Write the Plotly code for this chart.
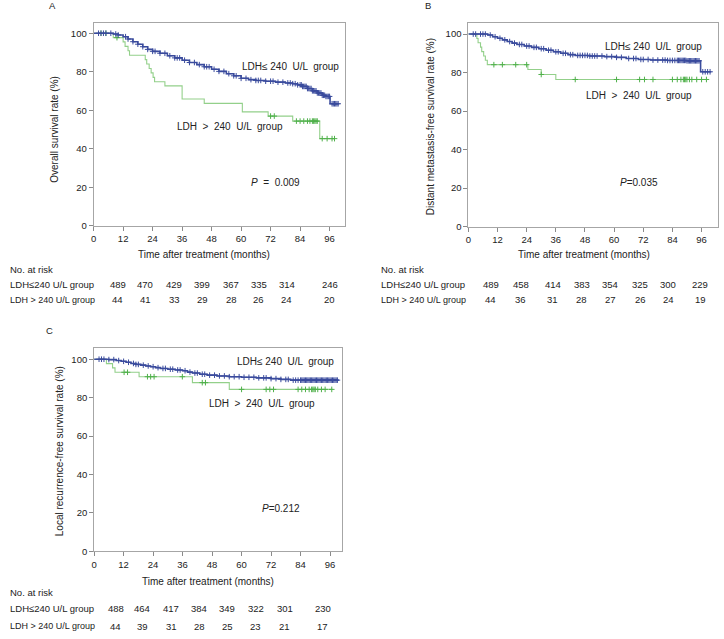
import bisect
import plotly.graph_objects as go

W, H = 724, 639

# ---------------- data ----------------
# Panel A: overall survival
a_low_t = [0, 8, 10, 12, 14, 16, 18, 20, 22, 24, 27, 30, 33, 36, 39, 42, 45, 48, 51, 54, 57, 60,
           63, 66, 70, 74, 78, 81, 83, 85, 87, 89, 91, 93, 94.5, 96.2]
a_low_s = [100, 99.6, 99.1, 98.2, 97, 95.6, 94.3, 93, 91.6, 90.6, 89.6, 88.3, 87.2, 86, 84.8, 83.7,
           82.6, 81.3, 80.2, 79, 77.9, 76.6, 75.9, 75.5, 75.1, 74.6, 74.2, 73.8, 73.2, 72.4, 71.3,
           70.1, 69, 67.8, 67.2, 63.4]
a_low_end = 99.7
a_low_cens = [2, 3, 4, 5, 7, 9, 10, 13, 14, 16, 18, 20, 22, 24, 25, 27, 29, 31, 33, 34, 35, 37, 39,
              41, 43, 45, 46, 47, 49, 51, 53, 55, 57, 58, 60, 62, 64, 66, 67, 68, 70, 72, 73, 75,
              77, 79, 80, 81, 82, 83, 84, 84.5, 85, 85.5, 86, 86.5, 87, 87.5, 88, 88.5, 89, 89.5,
              90, 90.5, 91, 91.5, 92, 92.5, 93, 93.5, 94, 94.5, 95, 95.5, 96, 97, 97.5, 98, 98.5,
              99, 99.5]
a_high_t = [0, 8, 12, 12.8, 14, 14.6, 21, 21.6, 22.6, 23.4, 24.2, 24.8, 29, 36, 45, 60.5, 71, 81, 92]
a_high_s = [100, 97.7, 95.5, 93.2, 90.9, 88.6, 86.3, 84.0, 81.7, 79.4, 77.1, 74.8, 72.7, 65.9, 63.6,
            59.2, 57.0, 54.4, 45.3]
a_high_end = 98
a_high_cens = [3, 5, 9.5, 72, 73.5, 82.5, 84, 85.5, 87, 88, 89, 89.5, 90, 90.5, 91, 93, 95, 97, 98]

# Panel B: distant metastasis-free survival
b_low_t = [0, 8, 10, 12, 14, 16, 18, 20, 23, 26, 29, 32, 35, 38, 41, 44, 50, 56, 61, 65, 70, 75,
           82, 90, 95.6]
b_low_s = [100, 99.5, 98.6, 97.8, 97, 96.1, 95.3, 94.6, 93.8, 93.1, 92.4, 91.6, 90.8, 90, 89.3,
           88.9, 88.6, 88.3, 87.9, 87.3, 86.8, 86.5, 86.3, 86.1, 80.4]
b_low_end = 100
b_low_cens = [2, 3, 5, 6, 7, 9, 11, 13, 15, 17, 19, 21, 22, 24, 25, 27, 28, 30, 31, 33, 34, 36, 37,
              39, 40, 42, 43, 45, 46, 47, 48, 49, 50, 51, 52, 53, 55, 57, 59, 61, 63, 66, 68, 69,
              71, 72, 74, 76, 78, 80, 81, 82, 83, 84, 85, 86, 86.5, 87, 87.5, 88, 88.5, 89, 89.5,
              90, 90.5, 91, 91.5, 92, 92.5, 93, 93.5, 94, 94.5, 95, 96.5, 97.5, 98.5, 99.5]
b_high_t = [0, 3.5, 4, 5, 5.5, 6.3, 7, 7.8, 24.5, 30, 36]
b_high_s = [100, 97.7, 95.5, 93.2, 90.9, 88.6, 86.4, 84.1, 81.6, 79.0, 76.4]
b_high_end = 98
b_high_cens = [10.5, 14, 19.5, 24, 30, 44, 61, 70.5, 72.5, 76, 84, 86, 87.5, 88.5, 89, 89.5, 90,
               91, 92, 94, 96, 98]

# Panel C: local recurrence-free survival
c_low_t = [0, 6, 9, 11, 13, 15, 17, 19, 21, 23, 25, 27, 30, 33, 36, 38, 40, 43, 46, 50, 55, 60,
           66, 72, 76, 80]
c_low_s = [100, 99.8, 99.3, 98.9, 98.4, 97.8, 97.3, 96.9, 96.5, 96.1, 95.6, 95.2, 94.8, 94.4, 94.0,
           93.3, 92.8, 92.2, 91.7, 91.3, 90.9, 90.6, 90.3, 89.9, 89.5, 89.1]
c_low_end = 99.5
c_low_cens = [2, 3, 4, 6, 8, 10, 12, 14, 16, 17, 18, 20, 22, 24, 26, 28, 29, 31, 32, 34, 35, 37,
              39, 41, 42, 44, 45, 47, 49, 51, 53, 55, 57, 59, 61, 63, 65, 67, 69, 70, 72, 74, 76,
              78, 79, 81, 82, 83, 84, 84.5, 85, 85.5, 86, 86.5, 87, 87.5, 88, 88.5, 89, 89.5, 90,
              90.5, 91, 91.5, 92, 92.5, 93, 93.5, 94, 94.5, 95, 95.5, 96, 96.5, 97, 97.5, 98,
              98.5, 99]
c_high_t = [0, 5, 7.5, 8.5, 18.3, 40, 55]
c_high_s = [100, 97.7, 95.5, 93.2, 90.9, 87.8, 84.3]
c_high_end = 97
c_high_cens = [12.2, 13.6, 21.7, 23, 24.4, 35.9, 44, 45.3, 60, 70, 71.5, 73, 83, 84.5, 86, 87.5,
               88.5, 89, 89.5, 90, 91, 92.5, 94, 96.7]

# Numbers at risk
risk_a_low = [489, 470, 429, 399, 367, 335, 314, 246]
risk_a_high = [44, 41, 33, 29, 28, 26, 24, 20]
risk_b_low = [489, 458, 414, 383, 354, 325, 300, 229]
risk_b_high = [44, 36, 31, 28, 27, 26, 24, 19]
risk_c_low = [488, 464, 417, 384, 349, 322, 301, 230]
risk_c_high = [44, 39, 31, 28, 25, 23, 21, 17]

x_ticks = [0, 12, 24, 36, 48, 60, 72, 84, 96]
y_ticks = [0, 20, 40, 60, 80, 100]

label_low = "LDH\u2264240 U/L group"
label_low_plot = "LDH\u2264 240  U/L  group"
label_high = "LDH > 240 U/L group"
label_high_plot = "LDH  >  240  U/L  group"

# ---------------- styling / layout ----------------
FONT = "Liberation Sans, Arial, Helvetica, sans-serif"
BLUE = "#3a4b9d"
GREEN_LINE = "#93d08a"
GREEN_MARK = "#4fb04a"
TXT = "#222222"


def px(x):
    return x / W


def py(y):
    return 1 - y / H


panels = [
    dict(name="A", xdom=(91, 343), ydom=(227.7, 23), xr=(0, 102.1), yr=(0, 105.4),
         low=(a_low_t, a_low_s, a_low_end, a_low_cens), high=(a_high_t, a_high_s, a_high_end, a_high_cens),
         ytitle="Overall survival rate (%)", ytitle_pos=(52, 130),
         xtitle_pos=(202, 257), letter_pos=(50, 6),
         lab_low=(59.5, 82.7), lab_high=(33.2, 51.8), ptxt="<i>P</i>  =  0.009", ppos=(63.2, 22.5),
         risk_x=[115, 143, 172, 200, 229, 257, 285, 328], risk_rows=(risk_a_low, risk_a_high),
         table_left=5, table_y=(272, 287, 302)),
    dict(name="B", xdom=(467.3, 718.3), ydom=(228.3, 22.7), xr=(0, 102.9), yr=(0, 106),
         low=(b_low_t, b_low_s, b_low_end, b_low_cens), high=(b_high_t, b_high_s, b_high_end, b_high_cens),
         ytitle="Distant metastasis-free survival rate (%)", ytitle_pos=(430, 128),
         xtitle_pos=(583, 257), letter_pos=(427, 6),
         lab_low=(55.5, 93.5), lab_high=(47.8, 68.2), ptxt="<i>P</i>=0.035", ppos=(61.8, 22.8),
         risk_x=[490, 520, 552, 581, 610, 640, 668, 700], risk_rows=(risk_b_low, risk_b_high),
         table_left=378, table_y=(272, 287, 302)),
    dict(name="C", xdom=(91.5, 340), ydom=(555.75, 351), xr=(0, 100.7), yr=(0, 105.7),
         low=(c_low_t, c_low_s, c_low_end, c_low_cens), high=(c_high_t, c_high_s, c_high_end, c_high_cens),
         ytitle="Local recurrence-free survival rate (%)", ytitle_pos=(57, 455),
         xtitle_pos=(206, 586), letter_pos=(47, 333),
         lab_low=(57.4, 99), lab_high=(46, 76.8), ptxt="<i>P</i>=0.212", ppos=(67.5, 22.1),
         risk_x=[113, 140, 169, 197, 225, 254, 283, 321], risk_rows=(risk_c_low, risk_c_high),
         table_left=5, table_y=(597, 613, 631)),
]


def step_at(ts, ss, t):
    i = bisect.bisect_right(ts, t) - 1
    return ss[max(i, 0)]


fig = go.Figure()
annotations = []
layout_axes = {}

for k, p in enumerate(panels):
    n = "" if k == 0 else str(k + 1)
    xa, ya = "x" + n, "y" + n
    # curves: high (green) first, then low (blue)
    for (ts, ss, tend, cens), lc, mc, lw in [(p["high"], GREEN_LINE, GREEN_MARK, 1.1),
                                             (p["low"], BLUE, BLUE, 1.6)]:
        fig.add_trace(go.Scatter(
            x=ts + [tend], y=ss + [ss[-1]], mode="lines", line=dict(color=lc, width=lw, shape="hv"),
            xaxis=xa, yaxis=ya, showlegend=False, hoverinfo="skip"))
        fig.add_trace(go.Scatter(
            x=cens, y=[step_at(ts, ss, c) for c in cens], mode="markers",
            marker=dict(symbol="cross-thin", size=4, line=dict(color=mc, width=1)),
            xaxis=xa, yaxis=ya, showlegend=False, hoverinfo="skip"))

    axcommon = dict(showgrid=False, zeroline=False, showline=True, mirror=True, linecolor="#a6a6a6",
                    linewidth=1, ticks="outside", ticklen=4, tickcolor="#8a8a8a", tickwidth=1,
                    tickfont=dict(family=FONT, size=9.5, color=TXT), fixedrange=True)
    layout_axes["xaxis" + n] = dict(axcommon, domain=[px(p["xdom"][0]), px(p["xdom"][1])],
                                    range=list(p["xr"]), tickvals=x_ticks, anchor=ya)
    layout_axes["yaxis" + n] = dict(axcommon, domain=[py(p["ydom"][0]), py(p["ydom"][1])],
                                    range=list(p["yr"]), tickvals=y_ticks, anchor=xa)

    f9 = dict(family=FONT, size=9, color=TXT)
    f95 = dict(family=FONT, size=9.5, color=TXT)
    f10 = dict(family=FONT, size=10, color=TXT)
    # in-plot labels
    annotations.append(dict(x=p["lab_low"][0], y=p["lab_low"][1], xref=xa, yref=ya, text=label_low_plot,
                            showarrow=False, xanchor="left", yanchor="middle", font=f10))
    annotations.append(dict(x=p["lab_high"][0], y=p["lab_high"][1], xref=xa, yref=ya, text=label_high_plot,
                            showarrow=False, xanchor="left", yanchor="middle", font=f10))
    annotations.append(dict(x=p["ppos"][0], y=p["ppos"][1], xref=xa, yref=ya, text=p["ptxt"],
                            showarrow=False, xanchor="left", yanchor="middle", font=f10))
    # titles
    annotations.append(dict(x=px(p["ytitle_pos"][0]), y=py(p["ytitle_pos"][1]), xref="paper", yref="paper",
                            text=p["ytitle"], textangle=-90, showarrow=False, xanchor="center",
                            yanchor="middle", font=f10))
    annotations.append(dict(x=px(p["xtitle_pos"][0]), y=py(p["xtitle_pos"][1]), xref="paper", yref="paper",
                            text="Time after treatment (months)", showarrow=False, xanchor="center",
                            yanchor="middle", font=f10))
    annotations.append(dict(x=px(p["letter_pos"][0]), y=py(p["letter_pos"][1]), xref="paper", yref="paper",
                            text=p["name"], showarrow=False, xanchor="center", yanchor="middle", font=f95))
    # risk table
    ty = p["table_y"]
    annotations.append(dict(x=px(p["table_left"]), y=py(ty[0]), xref="paper", yref="paper",
                            text="No. at risk", showarrow=False, xanchor="left", yanchor="middle", font=f95))
    annotations.append(dict(x=px(p["table_left"]), y=py(ty[1]), xref="paper", yref="paper",
                            text=label_low, showarrow=False, xanchor="left", yanchor="middle", font=f95))
    annotations.append(dict(x=px(p["table_left"]), y=py(ty[2]), xref="paper", yref="paper",
                            text=label_high, showarrow=False, xanchor="left", yanchor="middle", font=f9))
    for row, yy in zip(p["risk_rows"], ty[1:]):
        for xx, v in zip(p["risk_x"], row):
            annotations.append(dict(x=px(xx), y=py(yy), xref="paper", yref="paper", text=str(v),
                                    showarrow=False, xanchor="center", yanchor="middle", font=f95))

fig.update_layout(
    width=W, height=H, margin=dict(l=0, r=0, t=0, b=0), paper_bgcolor="white", plot_bgcolor="white",
    showlegend=False, annotations=annotations, font=dict(family=FONT, size=9.5, color=TXT), **layout_axes)

# remove the browser's default 8px page margin so the figure sits at the window origin
fig.write_html("out.html", config={"displayModeBar": False, "staticPlot": True},
               post_script="document.body.style.margin='0px';document.body.style.overflow='hidden';")
